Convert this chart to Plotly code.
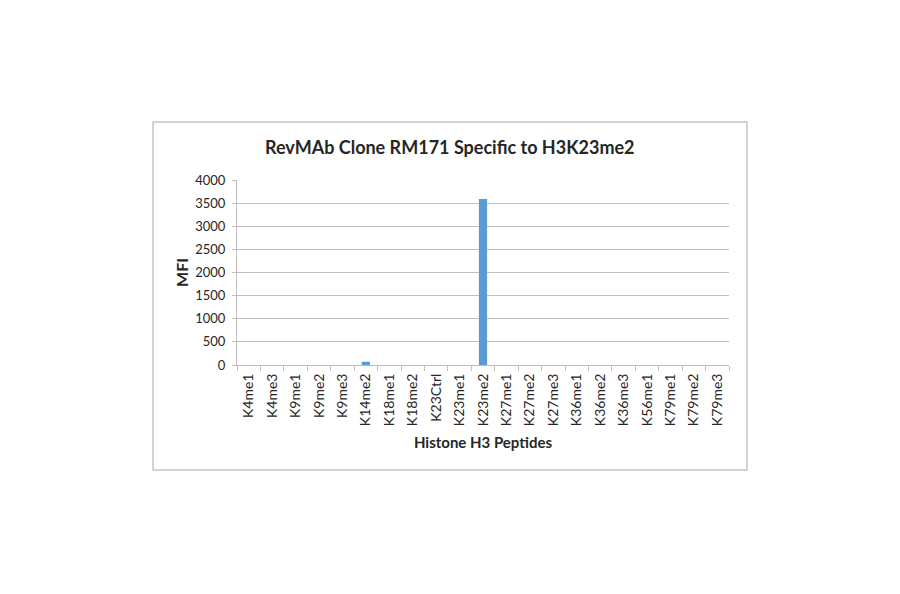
import plotly.graph_objects as go

peptides = ["K4me1", "K4me3", "K9me1", "K9me2", "K9me3", "K14me2", "K18me1",
            "K18me2", "K23Ctrl", "K23me1", "K23me2", "K27me1", "K27me2", "K27me3",
            "K36me1", "K36me2", "K36me3", "K56me1", "K79me1", "K79me2", "K79me3"]
mfi = [0, 0, 0, 0, 0, 70, 0, 0, 0, 0, 3590, 0, 0, 0, 0, 0, 0, 0, 0, 0, 0]
y_ticks = [0, 500, 1000, 1500, 2000, 2500, 3000, 3500, 4000]

BAR_COLOR = "#5B9BD5"
GRID_COLOR = "#BFBFBF"
FONT = "Lato"

# target plot area in screen pixels; the page body adds an 8px offset
OFF = 8
L, R, T, B = 237, 729, 180, 365
W, H = R - L, B - T


def px(x):
    return (x - L) / W


def py(y):
    return (B - y) / H


fig = go.Figure(
    go.Bar(x=peptides, y=mfi, marker=dict(color=BAR_COLOR, line_width=0), width=0.35)
)

# outer chart frame (like an Excel chart area)
fig.add_shape(
    type="rect", xref="paper", yref="paper",
    x0=px(153), x1=px(747), y0=py(470), y1=py(122),
    line=dict(color="#A6A6A6", width=1), fillcolor="rgba(0,0,0,0)", layer="below",
)

fig.add_annotation(
    text="<b>RevMAb Clone RM171 Specific to H3K23me2</b>",
    xref="paper", yref="paper", x=px(450), y=py(147),
    showarrow=False, font=dict(family=FONT, size=18, color="#262626"),
    xanchor="center", yanchor="middle",
)

fig.update_layout(
    width=900, height=594,
    margin=dict(l=L - OFF, r=900 - (R - OFF), t=T - OFF, b=594 - (B - OFF)),
    paper_bgcolor="white", plot_bgcolor="white",
    font=dict(family=FONT, color="#262626"),
    showlegend=False,
    xaxis=dict(
        tickangle=-90, tickfont=dict(size=14), ticklabelstandoff=2,
        showline=True, linecolor=GRID_COLOR, linewidth=1,
        ticks="outside", tickson="boundaries", ticklen=5, tickcolor=GRID_COLOR,
        showgrid=False,
        title=dict(text="<b>Histone H3 Peptides</b>", font=dict(size=15), standoff=12),
    ),
    yaxis=dict(
        range=[0, 4000], tickvals=y_ticks, tickfont=dict(size=13),
        ticks="outside", ticklen=4, tickcolor=GRID_COLOR, ticklabelstandoff=4,
        showgrid=True, gridcolor=GRID_COLOR, gridwidth=1,
        showline=True, linecolor=GRID_COLOR, linewidth=1, zeroline=False,
        title=dict(text="<b>MFI</b>", font=dict(size=16), standoff=2),
    ),
)

fig.write_html("out.html")
